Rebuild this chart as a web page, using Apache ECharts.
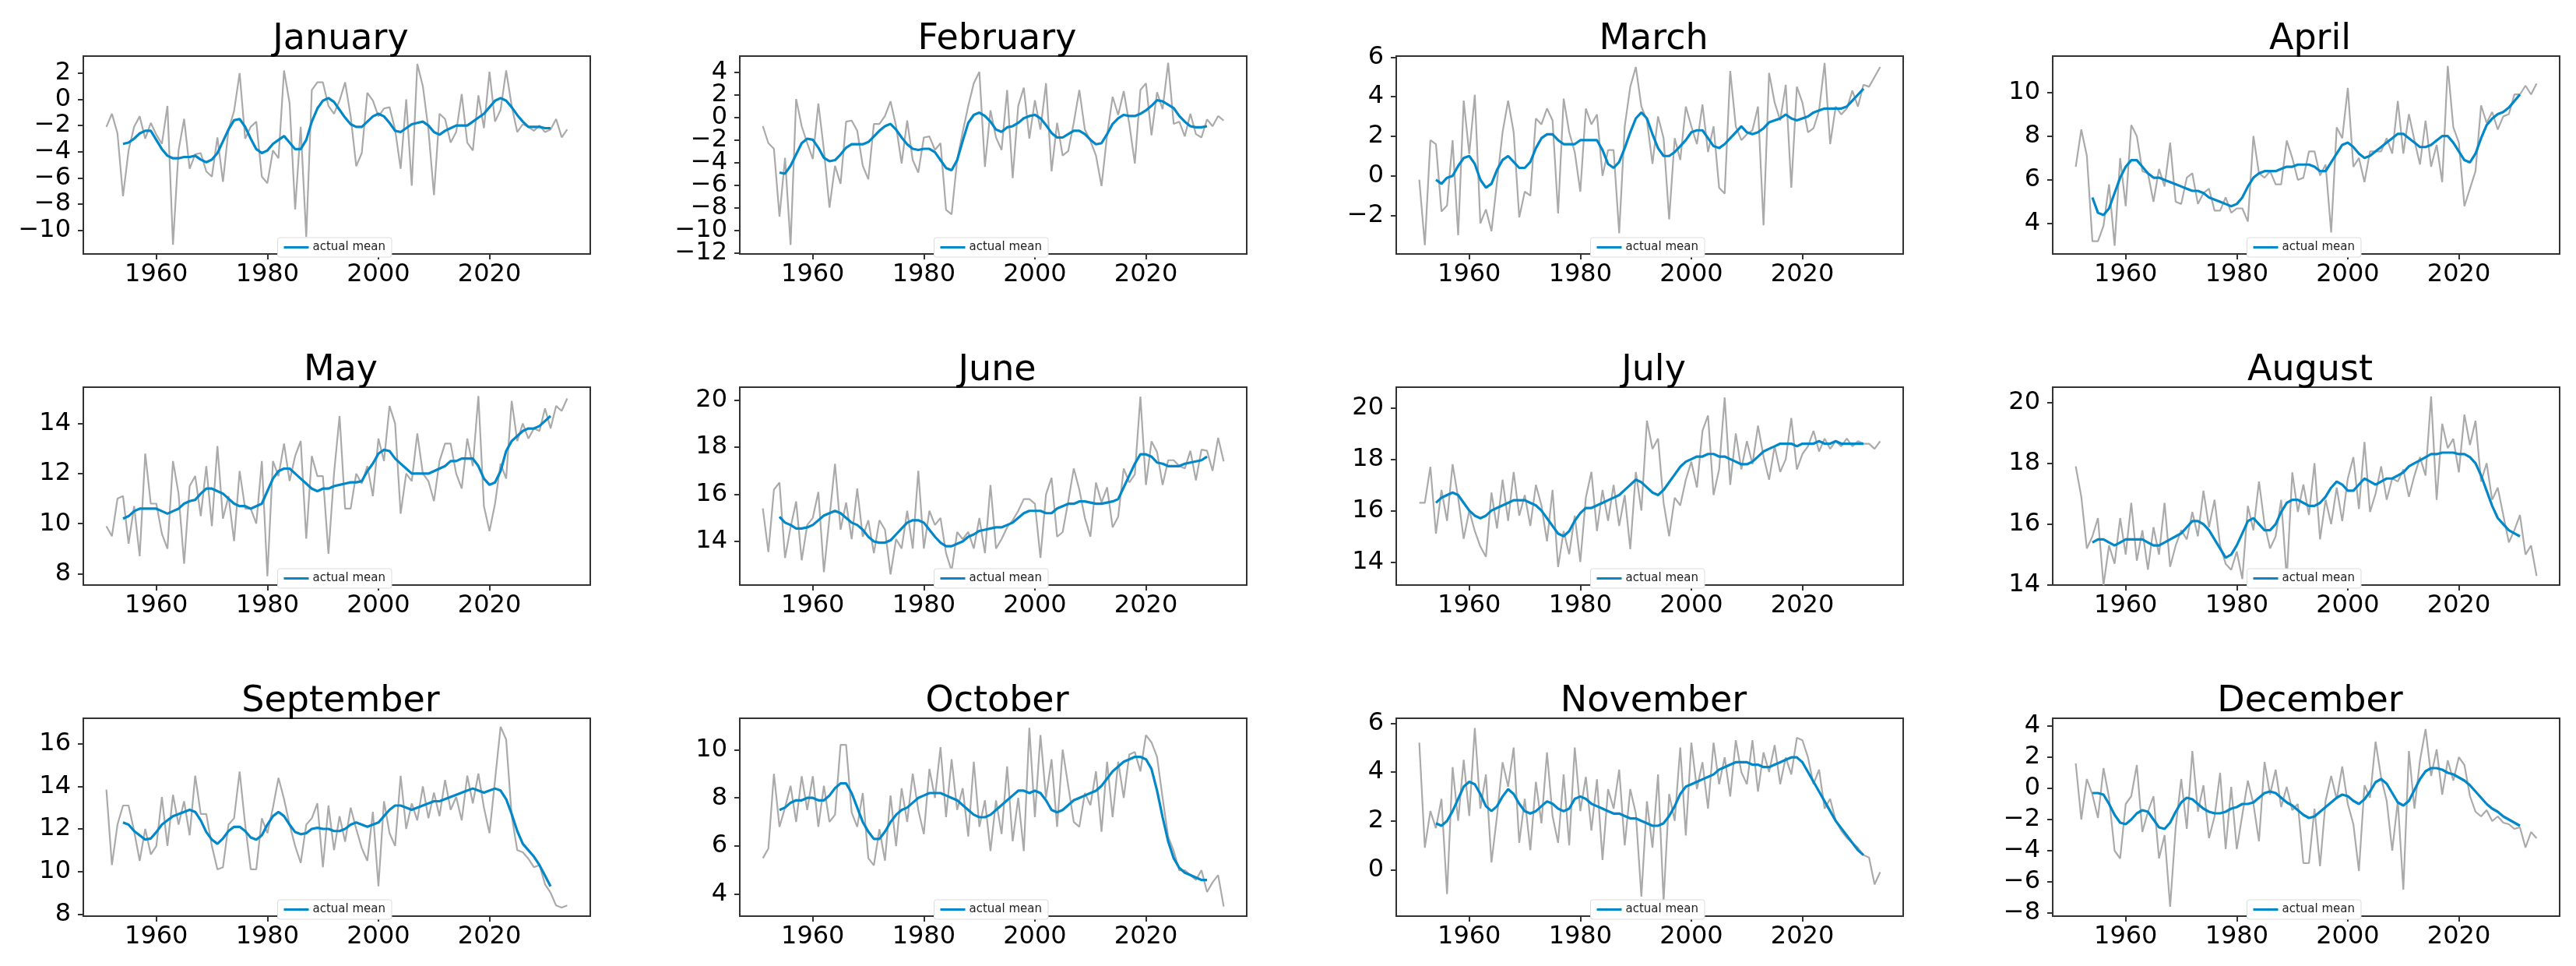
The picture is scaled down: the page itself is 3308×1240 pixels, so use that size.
<!DOCTYPE html>
<html>
<head>
<meta charset="utf-8">
<script src="https://cdn.jsdelivr.net/npm/echarts@6/dist/echarts.min.js"></script>
<style>html,body{margin:0;padding:0;background:#fff}#c{width:3308px;height:1240px}</style>
</head>
<body>
<div id="c"></div>
<script>
const months = ['January','February','March','April','May','June','July','August','September','October','November','December'];
const actualYears = [1951,1952,1953,1954,1955,1956,1957,1958,1959,1960,1961,1962,1963,1964,1965,1966,1967,1968,1969,1970,1971,1972,1973,1974,1975,1976,1977,1978,1979,1980,1981,1982,1983,1984,1985,1986,1987,1988,1989,1990,1991,1992,1993,1994,1995,1996,1997,1998,1999,2000,2001,2002,2003,2004,2005,2006,2007,2008,2009,2010,2011,2012,2013,2014,2015,2016,2017,2018,2019,2020,2021,2022,2023,2024,2025,2026,2027,2028,2029,2030,2031,2032,2033,2034];
const meanYears = [1954,1955,1956,1957,1958,1959,1960,1961,1962,1963,1964,1965,1966,1967,1968,1969,1970,1971,1972,1973,1974,1975,1976,1977,1978,1979,1980,1981,1982,1983,1984,1985,1986,1987,1988,1989,1990,1991,1992,1993,1994,1995,1996,1997,1998,1999,2000,2001,2002,2003,2004,2005,2006,2007,2008,2009,2010,2011,2012,2013,2014,2015,2016,2017,2018,2019,2020,2021,2022,2023,2024,2025,2026,2027,2028,2029,2030,2031];
const xTicks = [1960,1980,2000,2020];

const actualJan = [-2.1,-1.1,-2.6,-7.4,-3.9,-2.1,-1.3,-3.0,-1.8,-2.7,-3.4,-0.5,-11.1,-3.9,-1.5,-5.3,-4.2,-4.1,-5.5,-5.9,-2.9,-6.3,-2.3,-0.9,2.0,-3.0,-2.1,-1.7,-5.9,-6.4,-3.9,-4.5,2.2,-0.3,-8.4,-2.1,-10.5,0.7,1.3,1.3,-0.5,-1.1,-0.1,1.3,-1.3,-5.1,-4.1,0.5,-0.1,-1.3,-0.7,-0.6,-2.3,-5.3,0.0,-6.6,2.7,1.0,-2.3,-7.3,-1.1,-1.5,-3.3,-2.5,0.4,-3.3,-3.9,0.3,-2.2,2.1,-1.7,-0.8,2.2,-0.5,-2.5,-1.9,-2.1,-2.4,-2.0,-2.5,-2.3,-1.5,-2.9,-2.3];
const meanJan = [-3.4,-3.3,-3.0,-2.6,-2.4,-2.4,-3.1,-3.8,-4.3,-4.5,-4.5,-4.4,-4.4,-4.3,-4.6,-4.8,-4.6,-4.1,-3.2,-2.3,-1.6,-1.5,-2.1,-3.0,-3.8,-4.1,-3.9,-3.4,-3.1,-2.8,-3.3,-3.8,-3.8,-3.1,-1.7,-0.7,-0.1,0.1,-0.2,-0.8,-1.4,-1.9,-2.1,-2.1,-1.7,-1.3,-1.1,-1.3,-1.8,-2.4,-2.5,-2.2,-1.9,-1.8,-1.7,-2.0,-2.5,-2.7,-2.4,-2.2,-2.0,-2.0,-2.0,-1.7,-1.4,-1.1,-0.6,-0.1,0.1,-0.1,-0.6,-1.2,-1.7,-2.1,-2.1,-2.1,-2.2,-2.2];

const actualFeb = [-0.8,-2.3,-2.8,-8.8,-3.6,-11.3,1.6,-0.8,-2.3,-3.7,1.2,-2.9,-8.0,-4.3,-5.9,-0.4,-0.3,-1.2,-4.3,-5.5,-0.6,-0.6,0.1,1.4,-0.8,-4.1,-0.3,-3.8,-4.9,-1.8,-1.7,-2.9,-2.3,-8.2,-8.6,-3.8,-1.3,1.0,3.0,4.0,-4.4,0.6,-1.8,-2.9,2.4,-5.4,1.0,2.6,-1.9,1.5,-1.1,3.0,-4.8,-0.5,-3.4,-3.0,-0.5,2.4,-1.1,-2.1,-3.4,-6.1,-1.6,1.8,0.2,2.3,-0.6,-4.1,2.4,3.0,-1.6,2.2,0.7,4.8,-0.6,-0.4,-1.7,0.3,-1.5,-1.8,-0.2,-0.8,0.1,-0.3];
const meanFeb = [-4.9,-5.0,-4.3,-3.3,-2.3,-1.9,-2.0,-2.7,-3.6,-3.9,-3.8,-3.3,-2.7,-2.4,-2.4,-2.4,-2.2,-1.7,-1.2,-0.8,-0.6,-1.1,-1.8,-2.4,-2.8,-2.9,-2.8,-2.8,-3.1,-3.8,-4.5,-4.7,-3.8,-2.1,-0.5,0.2,0.4,0.1,-0.4,-1.1,-1.3,-0.9,-0.8,-0.5,-0.1,0.1,0.2,-0.1,-0.7,-1.4,-1.8,-1.8,-1.5,-1.2,-1.2,-1.5,-2.0,-2.4,-2.3,-1.5,-0.6,-0.1,0.2,0.1,0.1,0.3,0.6,1.0,1.5,1.4,1.1,0.8,0.1,-0.4,-0.8,-0.9,-0.9,-0.8];

const actualMar = [-0.2,-3.5,1.8,1.6,-1.8,-1.5,1.8,-3.0,3.8,1.1,4.1,-2.4,-1.7,-2.8,-0.3,2.2,3.8,2.2,-2.1,-0.8,-1.0,2.9,2.6,3.4,2.8,-1.9,3.9,2.2,1.2,-0.8,3.4,2.6,3.1,0.0,1.3,1.3,-2.9,2.5,4.5,5.5,3.5,2.8,0.6,3.0,1.9,-2.2,1.9,0.8,3.5,2.5,1.6,3.6,1.2,2.5,-0.6,-0.9,5.3,2.5,1.8,2.1,2.3,3.5,-2.5,5.2,3.7,2.8,4.6,-0.6,4.5,3.7,2.2,2.4,3.3,5.7,1.6,3.5,3.1,3.4,4.3,3.5,4.6,4.5,5.0,5.5];
const meanMar = [-0.2,-0.4,-0.1,0.0,0.5,0.9,1.0,0.6,-0.2,-0.6,-0.4,0.3,0.8,1.0,0.7,0.4,0.4,0.7,1.4,1.9,2.1,2.1,1.8,1.6,1.6,1.6,1.8,1.8,1.8,1.8,1.3,0.6,0.4,0.7,1.4,2.2,2.9,3.2,2.9,2.1,1.4,1.0,1.0,1.2,1.5,1.8,2.2,2.3,2.3,1.9,1.5,1.4,1.6,1.9,2.2,2.5,2.2,2.1,2.2,2.4,2.7,2.8,2.9,3.1,2.9,2.8,2.9,3.0,3.2,3.3,3.4,3.4,3.4,3.4,3.5,3.8,4.1,4.4];

const actualApr = [6.6,8.3,7.1,3.2,3.2,3.9,5.8,3.0,7.0,4.8,8.5,8.0,6.4,6.3,5.0,6.5,5.7,7.7,5.0,4.9,6.1,6.3,4.9,5.4,5.6,4.6,4.6,5.2,4.5,4.7,4.7,4.1,8.0,6.3,6.1,6.4,5.8,5.8,7.8,7.0,6.0,6.1,7.3,7.3,6.2,6.7,3.6,8.4,7.9,10.2,6.6,7.0,5.9,7.3,7.3,7.3,7.9,7.2,9.6,7.2,9.0,7.8,6.7,8.7,6.6,7.6,5.9,11.2,8.4,7.7,4.8,5.6,6.4,9.4,8.6,9.1,8.3,8.9,9.0,9.9,9.9,10.3,9.9,10.4];
const meanApr = [5.2,4.5,4.4,4.7,5.4,6.1,6.6,6.9,6.9,6.6,6.3,6.1,6.1,6.0,5.9,5.8,5.7,5.6,5.5,5.5,5.4,5.2,5.1,5.0,4.9,4.8,4.9,5.2,5.7,6.1,6.3,6.4,6.4,6.4,6.5,6.6,6.6,6.7,6.7,6.7,6.6,6.4,6.4,6.8,7.2,7.6,7.7,7.5,7.2,7.0,7.1,7.3,7.5,7.7,7.9,8.1,8.1,7.9,7.7,7.5,7.5,7.6,7.8,8.0,8.0,7.7,7.3,6.9,6.8,7.2,7.9,8.5,8.8,9.0,9.1,9.3,9.6,9.9];

const actualMay = [9.9,9.5,11.0,11.1,9.2,10.7,8.7,12.8,10.8,10.8,9.6,9.0,12.5,11.2,8.4,11.5,11.9,10.3,12.3,9.9,13.1,10.2,11.1,9.3,12.1,10.6,10.6,10.0,12.5,7.9,12.5,11.9,13.2,11.7,12.7,13.3,9.4,12.7,11.9,11.9,8.8,12.0,14.3,10.6,10.6,12.0,11.6,12.3,11.1,13.4,12.5,14.7,14.0,10.4,12.0,11.7,13.6,12.0,11.7,10.9,12.5,13.2,13.2,12.0,11.4,13.4,12.3,15.1,10.7,9.7,10.8,12.4,11.8,14.9,13.3,14.0,13.4,13.8,13.7,14.6,13.8,14.7,14.5,15.0];
const meanMay = [10.2,10.3,10.5,10.6,10.6,10.6,10.6,10.5,10.4,10.5,10.6,10.8,10.9,10.95,11.2,11.4,11.4,11.3,11.2,11.0,10.8,10.7,10.7,10.6,10.7,10.8,11.3,11.8,12.1,12.2,12.2,12.0,11.8,11.6,11.4,11.3,11.4,11.4,11.5,11.55,11.6,11.65,11.65,11.7,12.1,12.4,12.8,12.95,12.9,12.6,12.4,12.2,12.0,12.0,12.0,12.0,12.1,12.2,12.3,12.5,12.5,12.6,12.6,12.6,12.3,11.8,11.55,11.65,12.1,12.9,13.3,13.5,13.7,13.8,13.8,13.9,14.1,14.3];

const actualJun = [15.4,13.55,16.2,16.5,13.3,14.6,15.7,13.2,14.7,15.0,16.1,12.7,15.0,17.3,14.5,15.65,14.1,16.25,14.2,14.9,13.5,14.9,14.5,12.6,14.1,13.7,15.3,13.7,17.0,13.7,15.3,14.7,15.0,13.5,12.75,14.4,14.1,14.4,13.7,15.0,13.5,16.4,13.7,14.1,14.6,14.9,15.3,15.8,15.8,15.6,13.3,16.0,16.7,14.2,14.4,15.7,17.1,16.2,15.0,14.2,16.5,15.65,16.3,14.6,15.05,17.1,16.5,16.85,20.15,16.4,18.25,17.8,16.4,17.45,17.45,17.2,17.1,17.85,16.6,17.9,17.85,17.0,18.4,17.4];
const meanJun = [15.05,14.8,14.7,14.55,14.55,14.6,14.7,14.9,15.1,15.2,15.3,15.2,15.0,14.8,14.7,14.5,14.2,14.0,13.95,13.95,14.05,14.3,14.55,14.8,14.9,14.9,14.8,14.5,14.2,13.95,13.8,13.8,13.9,14.0,14.2,14.3,14.45,14.5,14.55,14.6,14.6,14.7,14.8,15.0,15.2,15.3,15.3,15.3,15.2,15.2,15.4,15.5,15.6,15.6,15.7,15.7,15.65,15.6,15.6,15.65,15.7,15.8,16.3,16.8,17.3,17.7,17.7,17.6,17.35,17.3,17.2,17.2,17.2,17.3,17.35,17.4,17.45,17.6];

const actualJul = [16.3,16.3,17.7,15.1,16.8,15.6,17.8,16.5,14.9,16.0,
  15.2,14.6,14.2,16.7,15.3,17.2,15.6,17.5,15.8,16.6,
  15.4,17.0,16.2,14.8,16.8,13.8,15.2,14.3,15.8,14.0,
  16.5,17.5,15.2,16.8,15.6,17.0,15.4,16.6,14.5,17.5,
  16.0,19.5,18.4,18.8,16.3,15.0,16.5,16.2,17.2,17.9,
  16.9,19.1,19.7,16.6,17.6,20.4,17.0,19.0,17.6,18.7,
  17.8,19.3,18.1,17.2,18.5,17.5,18.0,19.6,17.6,18.2,
  18.5,19.1,18.3,18.8,18.4,18.7,18.5,18.8,18.5,18.7,
  18.6,18.6,18.4,18.7];
const meanJul = [16.3,16.5,16.6,16.7,16.6,16.3,16.0,15.8,15.7,15.8,
  16.0,16.1,16.2,16.3,16.4,16.4,16.4,16.3,16.2,16.0,
  15.7,15.4,15.1,15.0,15.2,15.6,15.9,16.1,16.1,16.2,
  16.3,16.4,16.5,16.6,16.8,17.0,17.2,17.1,16.9,16.7,
  16.6,16.8,17.1,17.4,17.7,17.9,18.0,18.1,18.1,18.2,
  18.2,18.1,18.1,18.0,17.9,17.8,17.8,17.9,18.1,18.3,
  18.4,18.5,18.6,18.6,18.6,18.5,18.6,18.6,18.6,18.7,
  18.6,18.6,18.7,18.6,18.6,18.6,18.6,18.6];

const actualAug = [17.9,16.9,15.2,15.6,16.2,14.0,15.3,14.7,16.2,15.0,
  16.7,14.8,15.8,14.5,15.9,15.0,16.7,14.6,15.3,15.8,
  15.5,16.4,15.6,17.1,15.9,16.8,15.3,14.7,14.5,15.1,
  14.2,16.6,15.8,17.4,16.0,15.2,15.6,16.8,14.2,17.7,
  16.4,17.3,16.3,18.0,15.5,16.8,16.0,17.2,16.1,17.5,
  18.2,16.5,18.7,16.4,17.0,17.9,16.8,17.5,17.4,17.8,
  16.9,17.6,18.2,17.6,20.2,16.8,19.3,18.5,18.8,17.7,
  19.6,18.6,19.4,17.4,18.0,16.8,17.2,16.3,15.4,15.8,
  16.3,15.0,15.3,14.3];
const meanAug = [15.4,15.5,15.5,15.4,15.3,15.4,15.5,15.5,15.5,15.5,
  15.4,15.3,15.3,15.4,15.5,15.6,15.7,15.9,16.1,16.1,
  16.0,15.8,15.5,15.2,14.9,15.0,15.3,15.7,16.1,16.2,
  16.0,15.8,15.8,16.0,16.4,16.7,16.8,16.8,16.7,16.6,
  16.6,16.7,16.9,17.2,17.4,17.3,17.1,17.1,17.3,17.5,
  17.4,17.3,17.4,17.5,17.5,17.6,17.7,17.9,18.0,18.1,
  18.2,18.3,18.3,18.35,18.35,18.35,18.3,18.3,18.2,18.0,
  17.6,17.1,16.6,16.2,16.0,15.8,15.7,15.6];

const actualSep = [13.85,10.3,12.2,13.1,13.1,11.9,10.5,12.0,10.8,11.2,
  13.5,11.2,13.6,12.2,13.3,11.7,14.5,12.7,12.7,11.2,
  10.1,10.2,12.2,12.5,14.7,12.2,10.1,10.1,12.5,11.8,
  13.0,14.4,13.4,12.2,11.2,10.4,12.2,12.5,13.2,10.2,
  13.1,11.0,12.6,11.4,13.0,12.0,11.1,10.5,12.8,9.3,
  13.3,11.8,11.2,14.5,12.0,13.2,12.4,14.0,12.5,13.7,
  12.6,14.3,12.9,13.5,12.4,14.5,13.2,14.6,13.0,11.8,
  14.3,16.8,16.2,12.6,11.0,10.9,10.6,10.2,10.3,9.4,
  9.0,8.4,8.3,8.4];
const meanSep = [12.3,12.2,11.9,11.7,11.5,11.55,11.85,12.2,12.4,12.6,
  12.7,12.8,12.9,12.8,12.4,11.85,11.5,11.3,11.55,11.9,
  12.1,12.1,11.9,11.6,11.5,11.7,12.2,12.6,12.8,12.6,
  12.2,11.85,11.75,11.8,12.0,12.05,12.0,12.0,11.9,11.9,
  12.0,12.2,12.3,12.2,12.1,12.2,12.3,12.6,12.9,13.1,
  13.1,13.0,12.9,13.0,13.1,13.2,13.3,13.3,13.4,13.5,
  13.6,13.7,13.8,13.9,13.8,13.7,13.8,13.9,13.8,13.4,
  12.7,11.9,11.3,11.0,10.7,10.3,9.8,9.3];

const actualOct = [5.5,5.9,9.0,6.8,7.6,8.5,7.0,8.9,7.5,8.9,
  6.8,8.5,7.0,7.3,10.2,10.2,7.4,6.8,8.2,5.5,
  5.2,6.7,5.4,8.1,6.0,8.4,7.0,9.0,7.5,6.5,
  9.2,8.0,10.1,7.2,9.6,7.5,8.4,6.4,9.5,6.8,
  7.9,5.8,7.9,6.5,9.3,6.2,8.0,5.8,10.9,7.2,
  10.6,8.0,9.6,6.8,10.0,8.5,7.0,6.8,8.2,7.7,
  9.1,6.6,9.5,7.2,9.5,8.0,9.8,9.9,9.1,10.6,
  10.3,9.7,8.0,6.4,5.8,5.0,5.0,4.8,4.6,5.0,
  4.1,4.5,4.8,3.5];
const meanOct = [7.5,7.6,7.8,7.9,7.9,8.0,8.0,7.9,7.9,8.1,
  8.4,8.6,8.6,8.2,7.6,7.0,6.6,6.3,6.3,6.6,
  7.0,7.3,7.5,7.6,7.8,8.0,8.1,8.2,8.2,8.2,
  8.1,8.0,7.9,7.7,7.5,7.3,7.2,7.2,7.3,7.5,
  7.7,7.9,8.1,8.3,8.3,8.2,8.3,8.2,7.9,7.5,
  7.4,7.5,7.7,7.9,8.0,8.1,8.2,8.3,8.5,8.8,
  9.1,9.3,9.5,9.6,9.7,9.7,9.6,9.2,8.3,7.2,
  6.2,5.5,5.1,4.9,4.8,4.7,4.6,4.6];

const actualNov = [5.2,0.9,2.4,1.7,2.9,-1.0,4.2,2.0,4.5,2.2,
  5.8,2.5,3.9,0.3,2.2,4.4,3.4,5.0,1.1,2.9,
  0.8,3.6,1.9,4.8,2.2,1.1,3.9,1.0,5.0,2.4,
  3.8,1.6,3.7,0.4,3.3,2.5,4.1,1.0,3.3,2.3,
  -1.1,2.8,0.9,3.9,-1.3,3.1,2.0,5.0,1.4,5.2,
  3.3,4.4,2.5,5.2,3.5,4.6,3.0,5.3,4.0,3.5,
  5.3,3.2,4.8,4.0,5.1,3.5,4.6,3.9,5.4,5.3,
  4.6,3.5,4.1,2.5,2.9,2.0,1.6,1.3,1.1,0.9,
  0.6,0.5,-0.6,-0.1];
const meanNov = [1.9,1.8,2.0,2.4,2.9,3.4,3.6,3.5,3.1,2.6,
  2.4,2.6,3.0,3.3,3.1,2.7,2.4,2.3,2.4,2.6,
  2.8,2.7,2.5,2.4,2.5,2.9,3.0,2.9,2.7,2.6,
  2.5,2.4,2.3,2.3,2.2,2.1,2.1,2.0,1.9,1.8,
  1.8,1.9,2.2,2.6,3.1,3.4,3.5,3.6,3.7,3.8,
  3.9,4.1,4.2,4.3,4.4,4.4,4.4,4.3,4.3,4.2,
  4.2,4.3,4.4,4.5,4.6,4.6,4.4,4.0,3.6,3.2,
  2.8,2.4,2.0,1.7,1.4,1.1,0.8,0.6];

const actualDec = [1.6,-2.0,0.6,-0.4,-1.9,1.3,-0.6,-4.0,-4.5,-1.0,
  -0.5,1.5,-2.8,-1.5,-0.5,-4.5,-3.0,-7.6,-2.5,0.6,
  -2.6,2.4,-1.5,0.2,-3.2,-1.8,1.0,-3.9,0.1,-3.9,
  -1.7,0.5,-1.0,-3.4,1.7,-0.4,1.2,-1.2,0.1,-1.4,
  -1.0,-4.8,-4.8,-1.3,-5.0,-0.8,0.8,-0.7,1.4,-1.0,
  -2.3,-5.3,0.2,-0.6,3.0,0.7,-0.8,-4.0,-0.8,-6.5,
  2.4,-1.3,1.8,3.8,0.8,2.5,-0.4,1.8,0.5,2.0,
  1.5,-0.5,-1.5,-1.8,-1.4,-2.1,-1.8,-2.2,-2.3,-2.6,
  -2.5,-3.8,-2.8,-3.2];
const meanDec = [-0.3,-0.3,-0.4,-1.0,-1.7,-2.2,-2.3,-2.0,-1.6,-1.4,
  -1.5,-2.0,-2.5,-2.6,-2.2,-1.5,-0.9,-0.6,-0.7,-1.0,
  -1.3,-1.5,-1.6,-1.6,-1.5,-1.3,-1.2,-1.0,-1.0,-0.9,
  -0.6,-0.3,-0.2,-0.3,-0.6,-0.9,-1.1,-1.4,-1.7,-1.9,
  -1.8,-1.5,-1.2,-0.9,-0.6,-0.4,-0.5,-0.8,-1.0,-0.7,
  -0.2,0.4,0.6,0.3,-0.3,-0.9,-1.1,-0.8,-0.1,0.6,
  1.1,1.3,1.3,1.2,1.0,0.9,0.7,0.5,0.2,-0.2,
  -0.6,-1.0,-1.3,-1.5,-1.8,-2.0,-2.2,-2.4];

const yTicksList = [
  [-10,-8,-6,-4,-2,0,2],
  [-12,-10,-8,-6,-4,-2,0,2,4],
  [-2,0,2,4,6],
  [4,6,8,10],
  [8,10,12,14],
  [14,16,18,20],
  [14,16,18,20],
  [14,16,18,20],
  [8,10,12,14,16],
  [4,6,8,10],
  [-2,0,2,4,6],
  [-8,-6,-4,-2,0,2,4]
];
const yLimits = [
  [-11.8,3.3],[-12.1,5.4],[-3.95,6.05],[2.62,11.65],
  [7.55,15.45],[12.15,20.55],[13.1,20.8],[14.0,20.5],
  [7.9,17.2],[3.1,11.3],[-1.9,6.2],[-8.2,4.5]
];
const actualAll = [actualJan,actualFeb,actualMar,actualApr,actualMay,actualJun,actualJul,actualAug,actualSep,actualOct,actualNov,actualDec];
const meanAll = [meanJan,meanFeb,meanMar,meanApr,meanMay,meanJun,meanJul,meanAug,meanSep,meanOct,meanNov,meanDec];

const colLeft = [107, 950, 1793, 2636];
const rowTop = [72, 497, 922];
const W = 651, H = 254;
const FONT = 'DejaVu Sans';
const fmt = v => String(v).replace('-', '\u2212');

const grid = [], xAxis = [], yAxis = [], series = [], title = [], legend = [];
months.forEach((m, i) => {
  const c = i % 4, r = Math.floor(i / 4);
  const L = colLeft[c], T = rowTop[r];
  const ticks = yTicksList[i];
  const evenTicks = ticks.filter((_, k) => k % 2 === 0);
  const oddTicks = ticks.filter((_, k) => k % 2 === 1);
  grid.push({left: L, top: T, width: W, height: H, show: true, borderColor: '#333', borderWidth: 2, backgroundColor: 'transparent'});
  xAxis.push({type: 'value', gridIndex: i, min: 1946.85, max: 2038.15, position: 'bottom',
    axisLine: {show: false, onZero: false}, splitLine: {show: false},
    axisTick: {show: true, length: 7, lineStyle: {color: '#333', width: 2}, customValues: xTicks},
    axisLabel: {fontFamily: FONT, fontSize: 32, color: '#000', margin: 11, customValues: xTicks,
      showMinLabel: true, showMaxLabel: true, hideOverlap: false, formatter: v => String(v)}});
  // main y axis: all ticks, even-indexed labels
  yAxis.push({type: 'value', gridIndex: i, min: yLimits[i][0], max: yLimits[i][1], position: 'left', offset: 0,
    axisLine: {show: false, onZero: false}, splitLine: {show: false},
    axisTick: {show: true, length: 7, lineStyle: {color: '#333', width: 2}, customValues: ticks},
    axisLabel: {fontFamily: FONT, fontSize: 32, color: '#000', margin: 16, customValues: evenTicks,
      showMinLabel: true, showMaxLabel: true, hideOverlap: false, formatter: fmt}});
  // companion y axis in same grid: odd-indexed labels only
  yAxis.push({type: 'value', gridIndex: i, min: yLimits[i][0], max: yLimits[i][1], position: 'left', offset: 0,
    axisLine: {show: false, onZero: false}, splitLine: {show: false},
    axisTick: {show: false},
    axisLabel: {show: oddTicks.length > 0, fontFamily: FONT, fontSize: 32, color: '#000', margin: 16, customValues: oddTicks,
      showMinLabel: true, showMaxLabel: true, hideOverlap: false, formatter: fmt}});
  series.push({name: 'actual', type: 'line', xAxisIndex: i, yAxisIndex: 2 * i, symbol: 'none', silent: true,
    lineStyle: {color: '#aaaaaa', width: 2.2}, itemStyle: {color: '#aaaaaa'},
    data: actualAll[i].map((v, k) => [actualYears[k], v])});
  series.push({name: 'actual mean', type: 'line', xAxisIndex: i, yAxisIndex: 2 * i, symbol: 'none', silent: true,
    lineStyle: {color: '#0287c8', width: 3.2}, itemStyle: {color: '#0287c8'},
    data: meanAll[i].map((v, k) => [meanYears[k], v])});
  title.push({text: m, left: L + W / 2, top: T - 49, textAlign: 'center',
    textStyle: {fontFamily: FONT, fontSize: 46, fontWeight: 'normal', color: '#000'}});
  legend.push({data: [{name: 'actual mean', icon: 'rect'}], left: L + W / 2 - 76, top: T + 233, orient: 'horizontal',
    backgroundColor: '#fff', borderColor: '#dcdcdc', borderWidth: 1, borderRadius: 3,
    padding: [5, 8, 5, 8], itemWidth: 32, itemHeight: 3, itemGap: 8, selectedMode: false,
    textStyle: {fontFamily: FONT, fontSize: 15, color: '#222'}});
});

const chart = echarts.init(document.getElementById('c'), null, {renderer: 'canvas'});
chart.setOption({animation: false, backgroundColor: '#fff', title, legend, grid, xAxis, yAxis, series});
</script>
</body>
</html>
